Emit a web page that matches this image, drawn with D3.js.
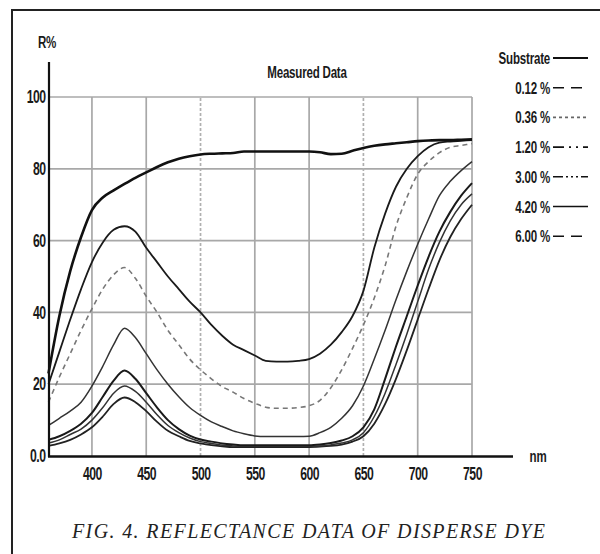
<!DOCTYPE html>
<html>
<head>
<meta charset="utf-8">
<script src="https://cdnjs.cloudflare.com/ajax/libs/d3/7.8.5/d3.min.js"></script>
<style>
  body { margin: 0; background: #fff; }
</style>
</head>
<body>
<div id="chart"></div>
<script>
// wavelengths (nm) shared by every series
const nm = [360,370,380,390,400,410,420,430,440,450,460,470,480,490,500,510,520,530,540,550,
            560,570,580,590,600,610,620,630,640,650,660,670,680,690,700,710,720,730,740,750];

const substrate = [23,39,51.5,61,68.5,72,74,75.8,77.5,79,80.5,81.8,82.8,83.5,84,84.2,84.3,84.4,84.8,84.8,
                   84.8,84.8,84.8,84.8,84.8,84.6,84.1,84.2,85,85.8,86.4,86.8,87.1,87.4,87.7,87.9,88,88,88.1,88.2];
const c012 = [20,29,38,46.5,54,59.5,63,64,62.5,58,54,50,46.5,43,40,36.5,33.5,31,29.5,28,
              26.5,26.3,26.3,26.5,27,28.5,31,34.5,39,46,58,67.5,75,80,83.5,86,87.3,87.6,87.8,88];
const c036 = [15,22,28.5,35,41,46.5,50.5,52.5,49.5,44.5,40,35,31,27,24,21.5,19.3,17.8,16,14.7,
              13.6,13.3,13.3,13.5,14,15.5,19,24,30,36.5,44,53,64,72,78.5,82,84.5,86,86.5,87];
const c120 = [8.5,10.5,12.5,15,19.5,25,31,35.6,33,28.5,24,20,16.5,13.5,11.3,9.5,8.2,7,6.2,5.6,
              5.4,5.4,5.4,5.4,5.5,6.5,8,10.5,14,19.5,27,35,43.5,51.5,59,66,72.5,76.5,79.5,82];
const c300 = [4.5,5.5,7,9,12,16.5,21,23.8,21.5,17.5,13.5,10,7.5,5.7,4.6,4,3.5,3.2,3,3,
              3,3,3,3,3,3.2,3.6,4.3,5.5,8,13,21.5,30.5,39,47.5,55.5,62.5,68,72.5,76];
const c420 = [3.6,4.5,6,7.5,10,13.5,17.5,19.5,18,15,11.5,8.5,6.5,5,4,3.5,3,2.8,2.7,2.7,
              2.7,2.7,2.7,2.7,2.7,2.8,3.1,3.6,4.5,6.5,11,17.5,25.5,34,43,52,59.5,65.5,70,73];
const c600 = [2.8,3.5,4.5,6,8,11,14.5,16.3,15,12.5,9.5,7,5.5,4.2,3.5,3,2.7,2.5,2.5,2.5,
              2.5,2.5,2.5,2.5,2.5,2.6,2.8,3.2,4,5.5,9,14.5,21.5,29.5,38,46.5,54.5,61,66,70];

const legendLabels = ["Substrate", "0.12 %", "0.36 %", "1.20 %", "3.00 %", "4.20 %", "6.00 %"];
const xTicks = [400,450,500,550,600,650,700,750];
const yTicks = [0,20,40,60,80,100];

const series = [
  {label: legendLabels[0], values: substrate, w: 2.6, color: "#111", dash: null,    key: "5000"},
  {label: legendLabels[1], values: c012,      w: 1.8, color: "#1a1a1a", dash: null, key: "11,7"},
  {label: legendLabels[2], values: c036,      w: 1.6, color: "#777", dash: "5,4",   key: "3,3"},
  {label: legendLabels[3], values: c120,      w: 1.5, color: "#333", dash: null,    key: "11,5,2,5,2,5"},
  {label: legendLabels[4], values: c300,      w: 2.0, color: "#1a1a1a", dash: null, key: "10,3,2,3,2,3,2,3"},
  {label: legendLabels[5], values: c420,      w: 1.5, color: "#333", dash: null,    key: "5000"},
  {label: legendLabels[6], values: c600,      w: 1.8, color: "#222", dash: null,    key: "11,7"}
];

const W = 600, H = 554;
const FONT = "'Liberation Sans', Arial, sans-serif";
const SQUEEZE = "scale(0.68,1)";   // narrow look of the original labels

const svg = d3.select("#chart").append("svg").attr("width", W).attr("height", H);

// outer frame
svg.append("rect").attr("x", 12).attr("y", 10).attr("width", 600).attr("height", 560)
  .attr("fill", "none").attr("stroke", "#222").attr("stroke-width", 2);

const x = d3.scaleLinear().domain([360, 750]).range([48.5, 472]);
const y = d3.scaleLinear().domain([0, 100]).range([456, 97]);

// grid
const grid = svg.append("g").attr("stroke", "#a8a8a8").attr("stroke-width", 1.7);
grid.selectAll("line.h").data(yTicks.slice(1)).join("line")
  .attr("x1", x(360)).attr("x2", x(750))
  .attr("y1", d => y(d)).attr("y2", d => y(d));
grid.selectAll("line.v").data(xTicks).join("line")
  .attr("x1", d => x(d)).attr("x2", d => x(d))
  .attr("y1", y(0)).attr("y2", y(100))
  .attr("stroke", d => (d === 500 || d === 650) ? "#b0b0b0" : "#a8a8a8")
  .attr("stroke-dasharray", d => (d === 500 || d === 650) ? "3,2" : null);

// curves
const line = d3.line()
  .x((d, i) => x(nm[i]))
  .y(d => y(d))
  .curve(d3.curveMonotoneX);

svg.append("g").selectAll("path").data(series.slice().reverse()).join("path")
  .attr("d", d => line(d.values))
  .attr("fill", "none")
  .attr("stroke", d => d.color)
  .attr("stroke-width", d => d.w)
  .attr("stroke-dasharray", d => d.dash)
  .attr("stroke-linejoin", "round");

// axes
const yAxis = svg.append("g").attr("transform", `translate(${x(360) - 1},0)`)
  .call(d3.axisLeft(y).tickValues(yTicks).tickSize(0).tickPadding(3)
    .tickFormat(d => d === 0 ? "0.0" : d));
yAxis.select(".domain").remove();
yAxis.selectAll("text").attr("font-family", FONT).attr("font-size", 18).attr("font-weight", "bold")
  .attr("letter-spacing", "-0.8").attr("fill", "#1a1a1a").attr("transform", SQUEEZE);

const xAxis = svg.append("g").attr("transform", `translate(0,${y(0)})`)
  .call(d3.axisBottom(x).tickValues(xTicks).tickSize(0).tickPadding(11));
xAxis.select(".domain").remove();
xAxis.selectAll("text").attr("font-family", FONT).attr("font-size", 18).attr("font-weight", "bold")
  .attr("letter-spacing", "-0.8").attr("fill", "#1a1a1a").attr("transform", SQUEEZE);

// axis lines
svg.append("line").attr("x1", 49).attr("x2", 49).attr("y1", 62).attr("y2", 457)
  .attr("stroke", "#111").attr("stroke-width", 2.2);
svg.append("line").attr("x1", 48).attr("x2", 513).attr("y1", 456.5).attr("y2", 456.5)
  .attr("stroke", "#111").attr("stroke-width", 2.6);

// labels
function narrowText(px, py, size, anchor, str) {
  svg.append("g").attr("transform", `translate(${px},${py}) ${SQUEEZE}`)
    .append("text").attr("font-family", FONT).attr("font-size", size).attr("font-weight", "bold")
    .attr("text-anchor", anchor).attr("letter-spacing", "-0.3").attr("fill", "#1a1a1a")
    .text(str);
}
narrowText(47, 48, 17, "middle", "R%");
narrowText(307, 78, 17, "middle", "Measured Data");
narrowText(538, 462, 17, "middle", "nm");

// legend
const leg = svg.append("g").selectAll("g").data(series).join("g")
  .attr("transform", (d, i) => `translate(0,${58 + i * 29.7})`);
leg.append("g").attr("transform", `translate(550,6) ${SQUEEZE}`)
  .append("text").attr("font-family", FONT).attr("font-size", 17).attr("font-weight", "bold")
  .attr("text-anchor", "end").attr("letter-spacing", "-0.3")
  .attr("fill", "#1a1a1a").text(d => d.label);
leg.append("line").attr("x1", 553).attr("x2", 588).attr("y1", 0).attr("y2", 0)
  .attr("stroke", (d, i) => i === 2 ? "#666" : "#111")
  .attr("stroke-width", (d, i) => i === 0 ? 2.2 : 1.6)
  .attr("stroke-dasharray", d => d.key);

// caption
svg.append("text").attr("x", 72).attr("y", 538)
  .attr("font-family", "'Liberation Serif', 'Times New Roman', serif")
  .attr("font-style", "italic").attr("font-size", 20).attr("fill", "#222")
  .attr("textLength", 473).attr("lengthAdjust", "spacing")
  .text("FIG. 4. REFLECTANCE DATA OF DISPERSE DYE");
</script>
</body>
</html>
